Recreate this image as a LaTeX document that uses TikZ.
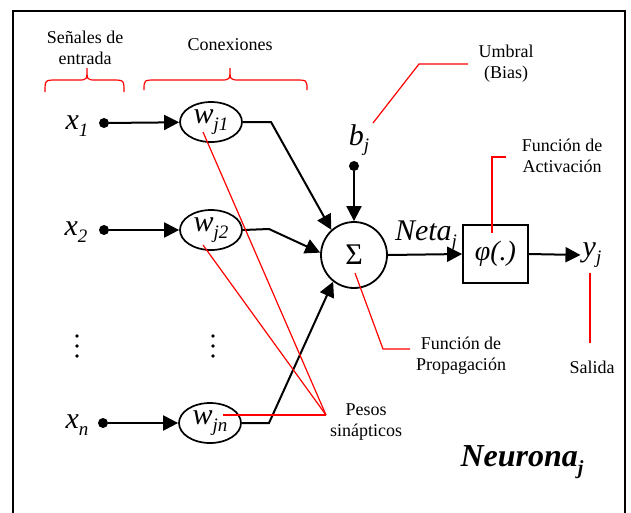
\documentclass[tikz,border=0pt]{standalone}
\usepackage{fontspec}
\setmainfont{Liberation Serif}
\usetikzlibrary{arrows.meta,shapes.geometric}
\newcommand{\bigit}[2]{{\fontsize{30}{30}\selectfont\itshape #1\raisebox{-0.22em}{\fontsize{19}{19}\selectfont #2}}}
\tikzset{
  lbl/.style={font=\fontsize{18}{21}\selectfont, align=center, inner sep=0pt},
  blk/.style={line width=2pt},
  arr/.style={blk, -{Triangle[length=15pt,width=15pt]}},
  redl/.style={red, line width=1.2pt},
  wnode/.style={ellipse, draw, line width=1.7pt, minimum width=62pt, minimum height=40pt, inner sep=0pt},
  dotn/.style={circle, fill, inner sep=0pt, minimum size=10pt},
  mlabel/.style={inner sep=1pt}
}
\begin{document}
\begin{tikzpicture}[x=1pt,y=-1pt]
\useasboundingbox (0,0) rectangle (631,512);
\fill[white] (0,0) rectangle (631,512);
\draw[line width=2pt] (13,11) rectangle (625,530);

% top labels and braces
\node[lbl] (senales) at (85,48) {Señales de\\entrada};
\node[lbl] (conex) at (230,45) {Conexiones};
\draw[redl] (45,92) .. controls (45,80) .. (57,80) -- (78,80) .. controls (87,80) .. (87,68)
  .. controls (87,80) .. (96,80) -- (112,80) .. controls (124,80) .. (124,92);
\draw[redl] (144,90) .. controls (144,80) .. (156,80) -- (220,80) .. controls (230,80) .. (230,68)
  .. controls (230,80) .. (240,80) -- (295,80) .. controls (307,80) .. (307,90);

% inputs
\node[mlabel] (x1) at (77,126) {\bigit{x}{1}};
\node[mlabel] (x2) at (76,232) {\bigit{x}{2}};
\node[mlabel] (xn) at (77,425) {\bigit{x}{n}};
\node[dotn] (d1) at (104,123) {};
\node[dotn] (d2) at (104,230) {};
\node[dotn] (dn) at (103,423) {};
\foreach \yy in {336,346,356} {
  \fill (77,\yy) circle (1.9pt);
  \fill (213,\yy) circle (1.9pt);
}

% weights
\node[wnode] (w1) at (211,122) {\bigit{w}{j1}};
\node[wnode] (w2) at (211,230) {\bigit{w}{j2}};
\node[wnode] (wn) at (210,423) {\bigit{w}{jn}};

% sum, bias, activation
\node[circle, draw, line width=1.8pt, minimum size=66pt, inner sep=0pt] (sig) at (354,255) {\fontsize{30}{30}\selectfont Σ};
\node[mlabel] (bj) at (359,140) {\bigit{b}{j}};
\node[dotn] (db) at (354,166) {};
\node[rectangle, draw, line width=1.8pt, minimum width=65pt, minimum height=58pt, inner sep=0pt] (phi) at (495.5,254) {\fontsize{28}{28}\selectfont\itshape φ(.)};
\node[mlabel] (neta) at (426,236) {\bigit{Neta}{j}};
\node[inner sep=2pt] (yj) at (592,255) {\bigit{y}{j}};
\node[font=\fontsize{32}{32}\selectfont\bfseries\itshape] (neur) at (522,462) {Neurona\raisebox{-0.25em}{\fontsize{20}{20}\selectfont j}};

\coordinate (c1) at (271,122);
\coordinate (c2) at (269,229);
\coordinate (cn) at (269,423);

\draw[arr] (d1) -- (w1);
\draw[arr] (d2) -- (w2);
\draw[arr] (dn) -- (wn);
\draw[arr] (w1.east) -- (c1) -- (sig.132);
\draw[arr] (w2.east) -- (c2) -- (sig.176);
\draw[arr] (wn.east) -- (cn) -- (sig.232);
\draw[arr] (db) -- (sig.north);
\draw[arr] (sig.east) -- (phi.west);
\draw[arr] (phi.east) -- (yj.west);

% red annotation lines
\node[lbl] (umbral) at (506,64) {Umbral\\(Bias)};
\coordinate (u1) at (373,123);
\coordinate (u2) at (419,64);
\coordinate (u3) at (468,64);
\draw[redl] (u1) -- (u2) -- (u3);

\node[lbl] (activ) at (562,156) {Función de\\Activación};
\coordinate (a1) at (492,233);
\coordinate (a2) at (492,157);
\coordinate (a3) at (506,157);
\draw[redl] (a1) -- (a2) -- (a3);

\node[lbl] (prop) at (461,356) {Función de\\Propagación};
\coordinate (p1) at (355,273);
\coordinate (p2) at (383,349);
\coordinate (p3) at (410,349);
\draw[redl] (p1) -- (p2) -- (p3);

\node[lbl] (salida) at (592,367) {Salida};
\coordinate (s1) at (590,273);
\coordinate (s2) at (590,343);
\draw[redl] (s1) -- (s2);

\node[lbl] (pesos) at (366,422) {Pesos\\sinápticos};
\coordinate (P) at (326,415);
\coordinate (r1) at (203,132);
\coordinate (r2) at (203,245);
\coordinate (rn) at (223,415);
\draw[redl] (r1) -- (P);
\draw[redl] (r2) -- (P);
\draw[redl] (rn) -- (P);
\end{tikzpicture}
\end{document}
